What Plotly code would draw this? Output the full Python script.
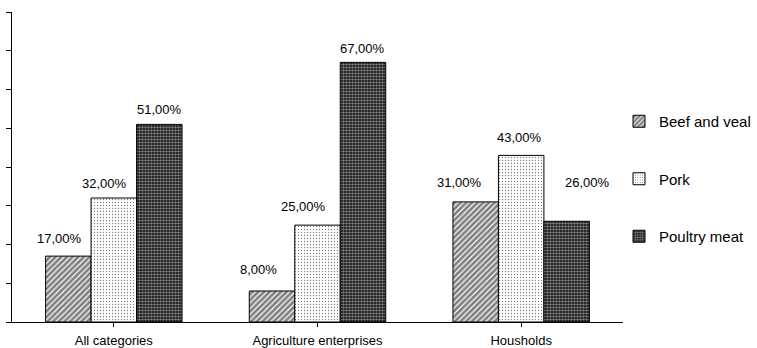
import plotly.graph_objects as go

categories = ["All categories", "Agriculture enterprises", "Housholds"]
series_names = ["Beef and veal", "Pork", "Poultry meat"]
beef = [17, 8, 31]
pork = [32, 25, 43]
poultry = [51, 67, 26]
values = [beef, pork, poultry]

patterns = [
    dict(shape="/", size=4, solidity=0.7, fgcolor="black", bgcolor="white"),
    dict(shape=".", size=3, solidity=0.15, fgcolor="black", bgcolor="white"),
    dict(shape=".", size=3, solidity=0.6, fgcolor="white", bgcolor="black"),
]

# label pixel nudges (style only), per series per category
label_xshift = [[-9, -14, -16], [-9, -14, -2], [0, 0, 21]]
label_yshift = [[18, 22, 19], [15, 19, 18], [15, 14, 39]]

FONT = "Liberation Sans, Arial, sans-serif"
bargap = 0.33

fig = go.Figure()
for j, (name, vals) in enumerate(zip(series_names, values)):
    fig.add_trace(go.Bar(
        x=list(range(len(categories))), y=vals, name=name,
        legendgroup=name,
        marker=dict(color="white", line=dict(color="black", width=1),
                    pattern=patterns[j]),
        hoverinfo="skip",
    ))

annotations = []
w = (1 - bargap) / 3
for j, vals in enumerate(values):
    for i, v in enumerate(vals):
        annotations.append(dict(
            x=i + (j - 1) * w, y=v, xref="x", yref="y",
            text=f"{v:.2f}%".replace(".", ","), showarrow=False,
            xshift=label_xshift[j][i], yshift=label_yshift[j][i],
            font=dict(family=FONT, size=13, color="black"),
            xanchor="center", yanchor="middle",
        ))

fig.update_layout(
    width=757, height=348,
    margin=dict(l=12, r=134, t=12, b=26, autoexpand=False),
    paper_bgcolor="white", plot_bgcolor="white",
    barmode="group", bargap=bargap, bargroupgap=0,
    font=dict(family=FONT, size=13, color="black"),
    showlegend=True,
    legend=dict(
        xref="container", yref="container",
        x=619 / 757, y=1 - 105 / 348, xanchor="left", yanchor="top",
        font=dict(family=FONT, size=15, color="black"),
        tracegroupgap=35, traceorder="grouped",
        itemwidth=30, bgcolor="rgba(0,0,0,0)",
    ),
    annotations=annotations,
    xaxis=dict(
        tickmode="array", tickvals=list(range(len(categories))), ticktext=categories,
        range=[-0.5, len(categories) - 0.5],
        showline=True, linecolor="black", linewidth=1,
        ticks="outside", ticklen=4, tickcolor="black", tickson="boundaries",
        ticklabelstandoff=2,
        showgrid=False, zeroline=False, automargin=False,
        tickfont=dict(family=FONT, size=13, color="black"),
    ),
    yaxis=dict(
        range=[0, 80], dtick=10, showticklabels=False,
        showline=True, linecolor="black", linewidth=1,
        ticks="outside", ticklen=5, tickcolor="black",
        showgrid=False, zeroline=False, automargin=False,
    ),
)

fig.write_html("out.html")
